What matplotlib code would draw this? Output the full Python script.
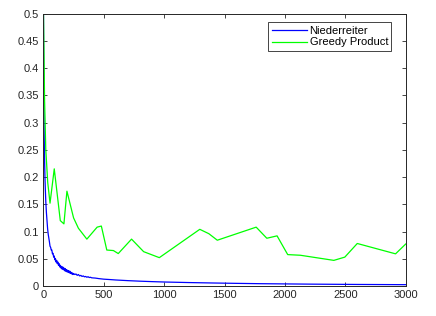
import matplotlib
matplotlib.use("Agg")
import matplotlib.pyplot as plt

plt.rcParams['font.family'] = ['Liberation Sans', 'DejaVu Sans']

nied_x = [1, 2, 3, 4, 6, 8, 10, 13, 16, 20, 25, 30, 35, 40, 45,
          50, 55, 60, 65, 70, 75, 80, 85, 90, 95, 100, 105, 110, 115, 120, 125,
          130, 135, 140, 145, 150, 155, 160, 165, 170, 175, 180, 185, 190, 195,
          200, 205, 210, 215, 220, 225, 230, 235, 240, 245, 250, 260, 270, 280,
          290, 300, 310, 320, 330, 340, 350, 360, 370, 380, 390, 400, 430, 460,
          500, 550, 600, 700, 800, 900, 1000, 1200, 1400, 1600, 1800, 2000, 2200,
          2400, 2600, 2800, 3000]
nied_y = [0.5, 0.44, 0.38, 0.34, 0.29, 0.255, 0.23, 0.2, 0.178, 0.155, 0.135, 0.12,
          0.105, 0.095, 0.088,
          0.081, 0.073, 0.071, 0.066, 0.066, 0.059, 0.060, 0.053, 0.055, 0.048, 0.050,
          0.044, 0.047, 0.041, 0.044, 0.038, 0.041, 0.035, 0.038, 0.033, 0.036, 0.031,
          0.035, 0.030, 0.033, 0.028, 0.032, 0.027, 0.030, 0.026, 0.029, 0.025, 0.028,
          0.024, 0.027, 0.023, 0.025, 0.022, 0.024, 0.021, 0.023, 0.021, 0.022, 0.0195,
          0.021, 0.0185, 0.0195, 0.0175, 0.0185, 0.0168, 0.0175, 0.016, 0.017, 0.0155,
          0.016, 0.015, 0.0145, 0.0135, 0.0125, 0.0118, 0.011, 0.0098, 0.0088, 0.008,
          0.0073, 0.0063, 0.0055, 0.0048, 0.0042, 0.0038, 0.0034, 0.0031, 0.0028,
          0.0026, 0.0024]

greedy_x = [1, 10, 20, 36, 55, 90, 140, 170, 195, 250, 290, 360, 445, 480, 525, 580,
            620, 730, 830, 960, 1295, 1370, 1440, 1762, 1850, 1935, 2023, 2128, 2405,
            2496, 2599, 2916, 3000]
greedy_y = [0.5, 0.34, 0.25, 0.19, 0.152, 0.215, 0.12, 0.114, 0.174, 0.125, 0.106,
            0.086, 0.108, 0.110, 0.066, 0.065, 0.0595, 0.086, 0.063, 0.052, 0.104,
            0.096, 0.084, 0.108, 0.0876, 0.092, 0.0576, 0.0564, 0.047, 0.053, 0.078,
            0.059, 0.077]

x_ticks = [0, 500, 1000, 1500, 2000, 2500, 3000]
y_ticks = [0, 0.05, 0.1, 0.15, 0.2, 0.25, 0.3, 0.35, 0.4, 0.45, 0.5]
y_labels = ["0", "0.05", "0.1", "0.15", "0.2", "0.25", "0.3", "0.35", "0.4", "0.45", "0.5"]

fig = plt.figure(figsize=(4.36, 3.16), dpi=100)
ax = fig.add_axes([0.0995, 0.095, 0.831, 0.862])
ax.plot(nied_x, nied_y, color='#0000ff', lw=0.9, label='Niederreiter')
ax.plot(greedy_x, greedy_y, color='#00ff00', lw=0.9, label='Greedy Product')
ax.set_xlim(0, 3000)
ax.set_ylim(0, 0.5)
ax.set_xticks(x_ticks)
ax.set_xticklabels([str(t) for t in x_ticks])
ax.set_yticks(y_ticks)
ax.set_yticklabels(y_labels)
ax.tick_params(direction='in', length=3, width=0.6, top=True, right=True,
               labelsize=8, colors='#262626', pad=3)
for s in ax.spines.values():
    s.set_color('#262626')
    s.set_linewidth(0.7)
leg = ax.legend(loc='upper right', fontsize=8, handlelength=3.2, handletextpad=0.2,
                borderpad=0.3, labelspacing=0.15, fancybox=False, framealpha=1,
                edgecolor='#262626', borderaxespad=0.8,
                bbox_to_anchor=(0.985, 1.0))
leg.get_frame().set_linewidth(0.6)
fig.savefig('out.png', dpi=100)
